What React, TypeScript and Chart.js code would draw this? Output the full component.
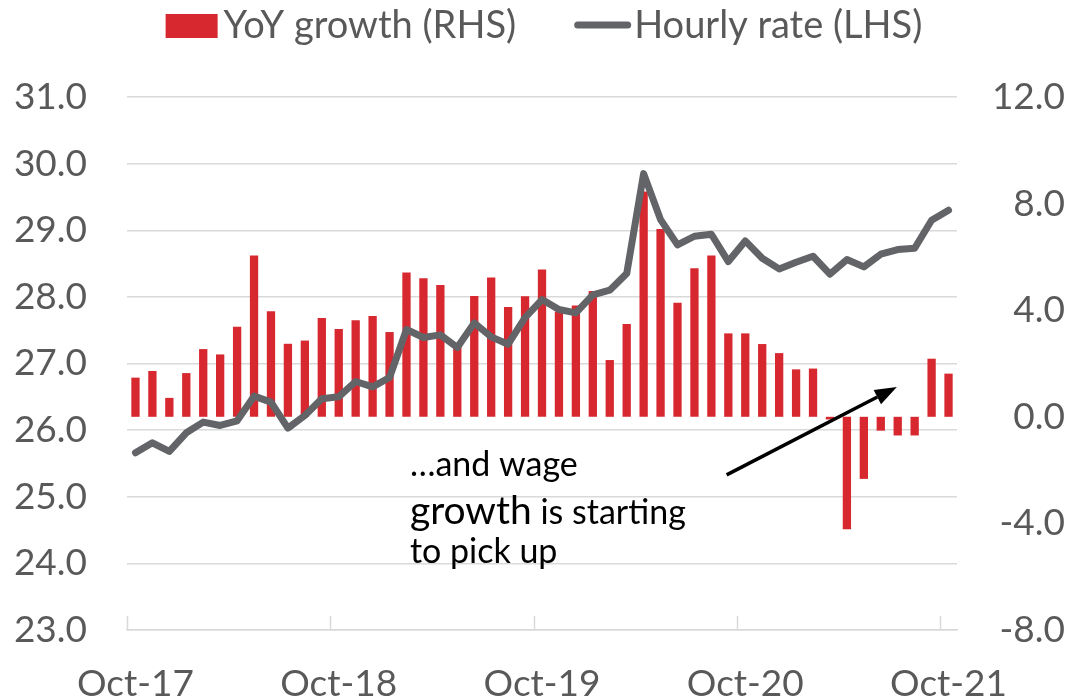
import React, { useEffect, useRef } from 'react';
import { Chart, registerables } from 'chart.js';

Chart.register(...registerables);

const FONT = 'Lato, "Open Sans", sans-serif';

const categories = [
  'Oct-17', 'Nov-17', 'Dec-17', 'Jan-18', 'Feb-18', 'Mar-18', 'Apr-18', 'May-18', 'Jun-18', 'Jul-18', 'Aug-18', 'Sep-18',
  'Oct-18', 'Nov-18', 'Dec-18', 'Jan-19', 'Feb-19', 'Mar-19', 'Apr-19', 'May-19', 'Jun-19', 'Jul-19', 'Aug-19', 'Sep-19',
  'Oct-19', 'Nov-19', 'Dec-19', 'Jan-20', 'Feb-20', 'Mar-20', 'Apr-20', 'May-20', 'Jun-20', 'Jul-20', 'Aug-20', 'Sep-20',
  'Oct-20', 'Nov-20', 'Dec-20', 'Jan-21', 'Feb-21', 'Mar-21', 'Apr-21', 'May-21', 'Jun-21', 'Jul-21', 'Aug-21', 'Sep-21',
  'Oct-21',
];

const hourlyRate = [
  25.66, 25.81, 25.68, 25.96, 26.12, 26.07, 26.14, 26.51, 26.42, 26.03, 26.22, 26.47,
  26.50, 26.73, 26.65, 26.79, 27.51, 27.39, 27.43, 27.24, 27.61, 27.40, 27.29, 27.69,
  27.96, 27.81, 27.76, 28.03, 28.10, 28.35, 29.85, 29.16, 28.78, 28.91, 28.94, 28.53,
  28.84, 28.58, 28.42, 28.52, 28.61, 28.34, 28.56, 28.45, 28.64, 28.71, 28.73, 29.15,
  29.30,
];

const yoyGrowth = [
  1.47, 1.72, 0.71, 1.64, 2.54, 2.34, 3.38, 6.05, 3.96, 2.74, 2.86, 3.71,
  3.29, 3.62, 3.78, 3.18, 5.41, 5.20, 4.95, 2.63, 4.53, 5.23, 4.12, 4.52,
  5.53, 3.95, 4.18, 4.72, 2.13, 3.48, 8.45, 7.05, 4.28, 5.57, 6.05, 3.13,
  3.13, 2.73, 2.39, 1.78, 1.81, -0.10, -4.22, -2.33, -0.52, -0.70, -0.70, 2.18,
  1.62,
];

const leftAxis = { min: 23, max: 31, step: 1 };
const rightAxis = { min: -8, max: 12, step: 4 };
const labelEvery = 12;

const seriesNames = { bars: 'YoY growth (RHS)', line: 'Hourly rate (LHS)' };

// annotation anchored in data space (x: category index, y: left-axis value)
const noteX = 16.2;
const noteLines = [
  { y: 25.31, parts: [{ text: '\u2026and wage', size: 34 }] },
  { y: 24.59, parts: [{ text: 'growth', size: 39 }, { text: ' is starting', size: 34 }] },
  { y: 24.0, parts: [{ text: 'to pick up', size: 34 }] },
];
// arrow anchored in data space (x: category index, y: right-axis value)
const arrowFrom = { x: 34.9, y: -2.18 };
const arrowTo = { x: 44.95, y: 1.12 };

const RED = '#d7282f';
const GREY_LINE = '#636468';
const TEXT_GREY = '#595959';
const GRID = '#d9d9d9';
const LEGEND_FONT = 38;

const decorPlugin = {
  id: 'decor',
  beforeDatasetsDraw(chart: any) {
    const { ctx, chartArea, scales } = chart;
    const x = scales.x;
    ctx.save();
    ctx.strokeStyle = GRID;
    ctx.lineWidth = 1.5;
    for (let i = 0; i < categories.length; i += labelEvery) {
      const px = Math.round(x.getPixelForValue(i - 0.5)) + 0.5;
      ctx.beginPath();
      ctx.moveTo(px, chartArea.bottom);
      ctx.lineTo(px, chartArea.bottom - 14);
      ctx.stroke();
    }
    ctx.restore();
  },
  afterDatasetsDraw(chart: any) {
    const { ctx, scales, chartArea } = chart;
    const x = scales.x;
    const yL = scales.y;
    const yR = scales.y1;
    ctx.save();
    ctx.fillStyle = '#000';
    ctx.textBaseline = 'alphabetic';
    ctx.textAlign = 'left';
    const startX = x.getPixelForValue(noteX);
    for (const line of noteLines) {
      let cx = startX;
      const py = yL.getPixelForValue(line.y);
      for (const p of line.parts) {
        ctx.font = `${p.size}px ${FONT}`;
        ctx.fillText(p.text, cx, py);
        cx += ctx.measureText(p.text).width;
      }
    }
    // arrow
    const x0 = x.getPixelForValue(arrowFrom.x);
    const y0 = yR.getPixelForValue(arrowFrom.y);
    const x1 = x.getPixelForValue(arrowTo.x);
    const y1 = yR.getPixelForValue(arrowTo.y);
    const ang = Math.atan2(y1 - y0, x1 - x0);
    const headLen = 22;
    const headHalf = 8;
    const bx = x1 - headLen * Math.cos(ang);
    const by = y1 - headLen * Math.sin(ang);
    ctx.strokeStyle = '#000';
    ctx.lineWidth = 3.5;
    ctx.beginPath();
    ctx.moveTo(x0, y0);
    ctx.lineTo(bx, by);
    ctx.stroke();
    ctx.beginPath();
    ctx.moveTo(x1, y1);
    ctx.lineTo(bx + headHalf * Math.sin(ang), by - headHalf * Math.cos(ang));
    ctx.lineTo(bx - headHalf * Math.sin(ang), by + headHalf * Math.cos(ang));
    ctx.closePath();
    ctx.fill();

    // legend
    ctx.font = `${LEGEND_FONT}px ${FONT}`;
    ctx.textBaseline = 'middle';
    const w1 = ctx.measureText(seriesNames.bars).width;
    const w2 = ctx.measureText(seriesNames.line).width;
    const boxW = 52;
    const boxH = 24;
    const lineLen = 57;
    const gapBoxText = 6;
    const gapItems = 58;
    const gapLineText = 3;
    const total = boxW + gapBoxText + w1 + gapItems + lineLen + gapLineText + w2;
    const cy = 26;
    let lx = (chartArea.left + chartArea.right) / 2 + 2 - total / 2;
    ctx.fillStyle = RED;
    ctx.fillRect(lx, cy - boxH / 2, boxW, boxH);
    lx += boxW + gapBoxText;
    ctx.fillStyle = TEXT_GREY;
    ctx.fillText(seriesNames.bars, lx, cy);
    lx += w1 + gapItems;
    ctx.strokeStyle = GREY_LINE;
    ctx.lineWidth = 7;
    ctx.lineCap = 'round';
    ctx.beginPath();
    ctx.moveTo(lx + 3.5, cy - 1);
    ctx.lineTo(lx + lineLen - 3.5, cy - 1);
    ctx.stroke();
    lx += lineLen + gapLineText;
    ctx.fillText(seriesNames.line, lx, cy);
    ctx.restore();
  },
};

export default function App() {
  const canvasRef = useRef<HTMLCanvasElement | null>(null);

  useEffect(() => {
    document.body.style.margin = '0';
    const canvas = canvasRef.current;
    if (!canvas) return;
    const chart = new Chart(canvas, {
      type: 'bar',
      data: {
        labels: categories,
        datasets: [
          {
            type: 'bar',
            label: seriesNames.bars,
            data: yoyGrowth,
            yAxisID: 'y1',
            backgroundColor: RED,
            borderWidth: 0,
            barPercentage: 0.49,
            categoryPercentage: 1,
            order: 1,
          } as any,
          {
            type: 'line',
            label: seriesNames.line,
            data: hourlyRate,
            yAxisID: 'y',
            borderColor: GREY_LINE,
            backgroundColor: GREY_LINE,
            borderWidth: 7,
            borderCapStyle: 'round',
            borderJoinStyle: 'round',
            pointRadius: 0,
            tension: 0,
            order: 0,
          } as any,
        ],
      },
      options: {
        responsive: false,
        animation: false,
        layout: { padding: { top: 97, right: 11, bottom: 0, left: 0 } },
        plugins: {
          tooltip: { enabled: false },
          legend: { display: false },
        },
        scales: {
          x: {
            type: 'category',
            offset: true,
            grid: { display: false, drawTicks: false },
            border: { display: true, color: GRID, width: 1.5 },
            ticks: {
              autoSkip: false,
              maxRotation: 0,
              minRotation: 0,
              padding: 32,
              color: TEXT_GREY,
              font: { family: FONT, size: 37 },
              callback: (_v: any, idx: number) => (idx % labelEvery === 0 ? categories[idx] : ''),
            },
            afterFit: (s: any) => { s.height = 70; },
          },
          y: {
            position: 'left',
            min: leftAxis.min,
            max: leftAxis.max,
            grid: { color: GRID, lineWidth: 1.5, drawTicks: false },
            border: { display: false },
            ticks: {
              stepSize: leftAxis.step,
              padding: 40,
              color: TEXT_GREY,
              font: { family: FONT, size: 37 },
              callback: (v: any) => Number(v).toFixed(1),
            },
            afterFit: (s: any) => { s.width = 127; },
          },
          y1: {
            position: 'right',
            min: rightAxis.min,
            max: rightAxis.max,
            grid: { display: false, drawTicks: false },
            border: { display: false },
            ticks: {
              stepSize: rightAxis.step,
              crossAlign: 'far',
              padding: 40,
              color: TEXT_GREY,
              font: { family: FONT, size: 37 },
              callback: (v: any) => Number(v).toFixed(1),
            },
            afterFit: (s: any) => { s.width = 108; },
          },
        },
      },
      plugins: [decorPlugin],
    });
    return () => chart.destroy();
  }, []);

  return (
    <div style={{ width: 1076, height: 700, background: '#fff' }}>
      <canvas ref={canvasRef} width={1076} height={700} />
    </div>
  );
}
